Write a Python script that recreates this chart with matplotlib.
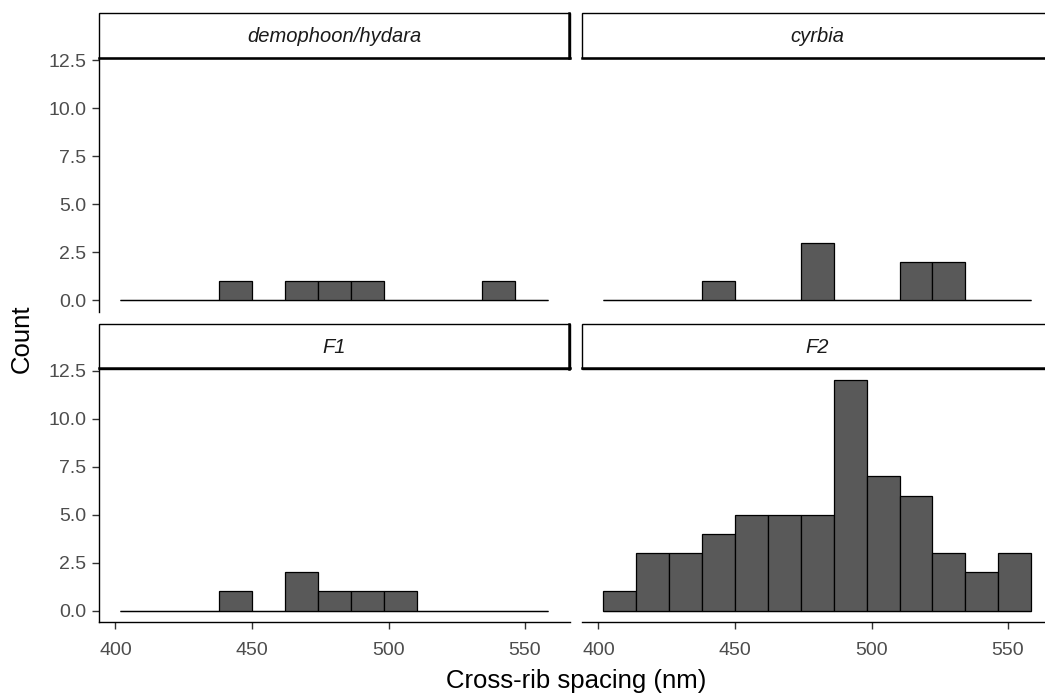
import numpy as np
import matplotlib
matplotlib.use("Agg")
import matplotlib.pyplot as plt
from matplotlib.patches import Rectangle
from matplotlib.lines import Line2D

# Histogram data: 13 bins of cross-rib spacing (nm), counts per group
bin_start = 401.8
bin_width = 12.05
n_bins = 13
groups = ["demophoon/hydara", "cyrbia", "F1", "F2"]
counts_demophoon_hydara = [0, 0, 0, 1, 0, 1, 1, 1, 0, 0, 0, 1, 0]
counts_cyrbia = [0, 0, 0, 1, 0, 0, 3, 0, 0, 2, 2, 0, 0]
counts_f1 = [0, 0, 0, 1, 0, 2, 1, 1, 1, 0, 0, 0, 0]
counts_f2 = [1, 3, 3, 4, 5, 5, 5, 12, 7, 6, 3, 2, 3]
x_ticks = [400, 450, 500, 550]
y_ticks = [0.0, 2.5, 5.0, 7.5, 10.0, 12.5]

all_counts = [counts_demophoon_hydara, counts_cyrbia, counts_f1, counts_f2]
edges = bin_start + bin_width * np.arange(n_bins + 1)

plt.rcParams["font.family"] = ["Liberation Sans", "DejaVu Sans"]

W, H = 1045, 697
fig = plt.figure(figsize=(W / 100, H / 100), dpi=100)

# panel geometry in pixels (left, right) and (top, bottom)
cols = [(99.0, 569.5), (582.0, 1052.5)]
rows = [(58.4, 311.8), (368.8, 622.2)]
strip_h = 45.0

# shared scales with 5% expansion like ggplot
span = edges[-1] - edges[0]
xlim = (edges[0] - 0.05 * span, edges[-1] + 0.05 * span)
ymax = max(max(c) for c in all_counts)
ylim = (-0.05 * ymax, ymax * 1.05)

fill = "#595959"
tick_col = "#4D4D4D"

for i, (name, counts) in enumerate(zip(groups, all_counts)):
    r, c = divmod(i, 2)
    x0, x1 = cols[c]
    y0, y1 = rows[r]
    ax = fig.add_axes([x0 / W, 1 - y1 / H, (x1 - x0) / W, (y1 - y0) / H])
    # empty bins collapse to the baseline, as in a ggplot histogram
    ax.hlines(0, edges[0], edges[-1], color="black", linewidth=0.9, zorder=1)
    ax.bar(edges[:-1], counts, width=bin_width, align="edge",
           color=fill, edgecolor="black", linewidth=0.9, zorder=2)
    ax.set_xlim(*xlim)
    ax.set_ylim(*ylim)
    for s in ["top", "right"]:
        ax.spines[s].set_visible(False)
    ax.spines["left"].set_visible(c == 0)
    ax.spines["bottom"].set_visible(r == 1)
    for s in ["left", "bottom"]:
        ax.spines[s].set_linewidth(1.0)
    ax.set_xticks(x_ticks)
    ax.set_yticks(y_ticks)
    ax.set_yticklabels([f"{v:.1f}" for v in y_ticks])
    ax.tick_params(axis="both", length=5, width=1.0, color="#333333",
                   labelsize=14, labelcolor=tick_col)
    ax.tick_params(axis="y", pad=4)
    ax.tick_params(axis="x", pad=9)
    if c != 0:
        ax.tick_params(axis="y", left=False, labelleft=False)
    if r != 1:
        ax.tick_params(axis="x", bottom=False, labelbottom=False)
    ax.patch.set_visible(False)

    # facet strip
    sy0 = y0 - strip_h
    rect = Rectangle((x0 / W, 1 - y0 / H), (x1 - x0) / W, strip_h / H,
                     transform=fig.transFigure, facecolor="white",
                     edgecolor="black", linewidth=1.0)
    fig.add_artist(rect)
    fig.add_artist(Line2D([x0 / W, x1 / W], [1 - (y0 - 0.5) / H] * 2,
                          transform=fig.transFigure, color="black", lw=1.8))
    fig.add_artist(Line2D([(x1 - 0.5) / W] * 2, [1 - y0 / H, 1 - sy0 / H],
                          transform=fig.transFigure, color="black", lw=1.8))
    fig.text((x0 + x1) / 2 / W, 1 - (sy0 + strip_h / 2 + 1) / H, name,
             ha="center", va="center", fontsize=14.5, style="italic",
             color="#1A1A1A")

fig.text((cols[0][0] + cols[1][1]) / 2 / W, 1 - 681 / H,
         "Cross-rib spacing (nm)", ha="center", va="center", fontsize=18.5)
fig.text(22 / W, 1 - 339 / H, "Count", ha="center", va="center",
         rotation=90, fontsize=18.5)

fig.savefig("out.png", dpi=100)
